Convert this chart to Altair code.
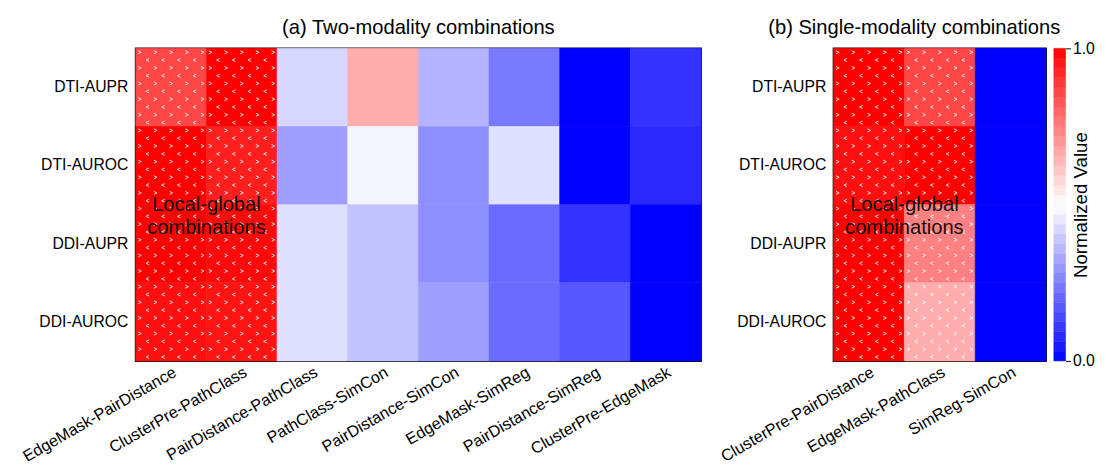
import altair as alt
import pandas as pd

rows = ["DTI-AUPR", "DTI-AUROC", "DDI-AUPR", "DDI-AUROC"]

left_cols = ["EdgeMask-PairDistance", "ClusterPre-PathClass", "PairDistance-PathClass",
             "PathClass-SimCon", "PairDistance-SimCon", "EdgeMask-SimReg",
             "PairDistance-SimReg", "ClusterPre-EdgeMask"]
left_hatch = [True, True, False, False, False, False, False, False]
left_dti_aupr = [0.86, 1.00, 0.42, 0.66, 0.35, 0.24, 0.00, 0.10]
left_dti_auroc = [1.00, 0.94, 0.31, 0.48, 0.28, 0.44, 0.00, 0.08]
left_ddi_aupr = [1.00, 0.98, 0.44, 0.38, 0.28, 0.21, 0.10, 0.00]
left_ddi_auroc = [0.97, 0.96, 0.44, 0.38, 0.31, 0.21, 0.17, 0.00]

right_cols = ["ClusterPre-PairDistance", "EdgeMask-PathClass", "SimReg-SimCon"]
right_hatch = [True, True, False]
right_dti_aupr = [1.00, 0.86, 0.00]
right_dti_auroc = [0.97, 1.00, 0.00]
right_ddi_aupr = [1.00, 0.75, 0.00]
right_ddi_auroc = [1.00, 0.66, 0.00]

titles = ["(a) Two-modality combinations", "(b) Single-modality combinations"]
annotation = "Local-global\ncombinations"
legend_title = "Normalized Value"
legend_ticks = [0.0, 1.0]
n_steps = 32

FONT = "Liberation Sans"
color_scale = alt.Scale(domain=[0, 0.5, 1], range=["#0000ff", "#ffffff", "#ff0000"],
                        interpolate="rgb")
CHEV_R = "M-1,-1L1,0L-1,1"
CHEV_L = "M1,-1L-1,0L1,1"
NX, NY = 9, 10
H = 318


def table(cols, series):
    recs = []
    for r, vals in zip(rows, series):
        for c, v in zip(cols, vals):
            recs.append({"col": c, "row": r, "v": v})
    return pd.DataFrame(recs)


def dots(cols, hatch):
    recs = []
    for ci, h in enumerate(hatch):
        if not h:
            continue
        for ri in range(len(rows)):
            for i in range(NX):
                for j in range(NY):
                    if (i + j) % 2 == 0:
                        recs.append({"dx": ci + (i + 0.5) / NX,
                                     "dy": ri + (j + 0.5) / NY,
                                     "k": "a" if j % 2 == 0 else "b"})
    return pd.DataFrame(recs)


def panel(cols, series, hatch, title, width, dx):
    xs = alt.Scale(type="band", domain=cols, paddingInner=0, paddingOuter=0)
    ys = alt.Scale(type="band", domain=rows, paddingInner=0, paddingOuter=0)
    xenc = alt.X("col:N", sort=cols, scale=xs, title=None,
                 axis=alt.Axis(labelAngle=-30, labelFontSize=16.5, ticks=False,
                               domain=False, labelPadding=3, labelColor="#000",
                               labelLimit=400))
    yenc = alt.Y("row:N", sort=rows, scale=ys, title=None,
                 axis=alt.Axis(labelFontSize=16, ticks=False, domain=False,
                               labelPadding=8, labelColor="#000", labelLimit=300))
    heat = alt.Chart(table(cols, series)).mark_rect(strokeWidth=0.6).encode(
        x=xenc, y=yenc,
        color=alt.Color("v:Q", scale=color_scale, legend=None),
        stroke=alt.Stroke("v:Q", scale=color_scale, legend=None),
    )
    pts = alt.Chart(dots(cols, hatch)).mark_point(
        color="white", filled=False, strokeWidth=1, size=10, opacity=0.85
    ).encode(
        x=alt.X("dx:Q", scale=alt.Scale(domain=[0, len(cols)], nice=False, zero=False),
                axis=None),
        y=alt.Y("dy:Q", scale=alt.Scale(domain=[0, len(rows)], nice=False, zero=False,
                                        reverse=True), axis=None),
        shape=alt.Shape("k:N", scale=alt.Scale(domain=["a", "b"], range=[CHEV_R, CHEV_L]),
                        legend=None),
    )
    first_hatched = [c for c, h in zip(cols, hatch) if h][0]
    txt = alt.Chart(pd.DataFrame([{"col": first_hatched, "row": rows[1]}])).mark_text(
        text=annotation, lineBreak="\n", fontSize=20.5, lineHeight=24, color="#111",
        align="center", baseline="middle"
    ).encode(
        x=alt.X("col:N", sort=cols, scale=xs, bandPosition=1, axis=None),
        y=alt.Y("row:N", sort=rows, scale=ys, bandPosition=1, axis=None),
    )
    return alt.layer(heat, pts, txt).resolve_scale(x="independent", y="independent").properties(
        width=width, height=H,
        title=alt.TitleParams(title, fontSize=20.5, fontWeight="normal", offset=10,
                              dx=dx, color="#000"),
        view=alt.ViewBackground(stroke="#111", strokeWidth=2),
    )


left = panel(left_cols, [left_dti_aupr, left_dti_auroc, left_ddi_aupr, left_ddi_auroc],
             left_hatch, titles[0], 575, 0)
right = panel(right_cols, [right_dti_aupr, right_dti_auroc, right_ddi_aupr, right_ddi_auroc],
              right_hatch, titles[1], 216, -26)

cb = pd.DataFrame({"lo": [i / n_steps for i in range(n_steps)]})
cb["hi"] = cb["lo"] + 1 / n_steps
cb["mid"] = cb["lo"] + 0.5 / n_steps
cbar = alt.Chart(cb).mark_rect(strokeWidth=0.5).encode(
    y=alt.Y("lo:Q", scale=alt.Scale(domain=[0, 1], nice=False),
            axis=alt.Axis(orient="right", values=legend_ticks, format=".1f",
                          tickSize=5, labelFontSize=16, labelPadding=2, domain=False,
                          grid=False, tickColor="#000", labelColor="#000",
                          title=legend_title, titleFontSize=19, titleFontWeight="normal",
                          titleAngle=270, titleX=15, titleY=H / 2, titleAlign="center",
                          titleBaseline="middle", titleColor="#000")),
    y2="hi:Q",
    color=alt.Color("mid:Q", scale=color_scale, legend=None),
    stroke=alt.Stroke("mid:Q", scale=color_scale, legend=None),
).properties(width=12, height=H, view=alt.ViewBackground(strokeWidth=0))

inner = alt.hconcat(right, cbar, spacing=8, bounds="flush")
chart = alt.hconcat(left, inner, spacing=135, bounds="flush").properties(
    padding={"left": 11, "top": 5, "right": 5, "bottom": 5}
).configure(font=FONT).configure_view(strokeWidth=0)

chart.save("out.html", embed_options={"renderer": "svg", "actions": False})
